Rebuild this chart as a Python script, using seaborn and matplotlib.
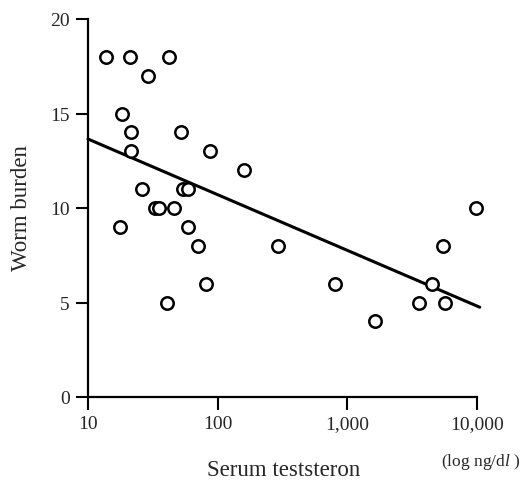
import matplotlib
matplotlib.use("Agg")
import matplotlib.pyplot as plt
import seaborn as sns
import pandas as pd

# Data
testosterone = [13.8, 21, 42, 29, 18.4, 21.5, 52, 21.5, 88, 159,
                26, 54, 59, 33, 35, 46, 17.7, 59, 70, 292,
                82, 41, 807, 1620, 3600, 4480, 5650, 5500, 9800]
worm_burden = [18, 18, 18, 17, 15, 14, 14, 13, 13, 12,
               11, 11, 11, 10, 10, 10, 9, 9, 8, 8,
               6, 5, 6, 4, 5, 6, 5, 8, 10]

# regression line end points
fit_x = [10, 10500]
fit_y = [13.65, 4.75]

x_ticks = [10, 100, 1000, 10000]
x_tick_labels = ["10", "100", "1,000", "10,000"]
y_ticks = [0, 5, 10, 15, 20]

df = pd.DataFrame({"testosterone": testosterone, "worm": worm_burden})
fit = pd.DataFrame({"x": fit_x, "y": fit_y})

sns.set_style("ticks")
plt.rcParams["font.family"] = ["Liberation Serif", "DejaVu Serif"]
plt.rcParams["mathtext.fontset"] = "custom"
plt.rcParams["mathtext.rm"] = "Liberation Serif"
plt.rcParams["mathtext.it"] = "Liberation Serif:italic"

W, H = 525, 485
fig = plt.figure(figsize=(W / 100, H / 100), dpi=100)
ax = fig.add_axes([88 / W, 1 - 398 / H, 389 / W, 378 / H])

sns.lineplot(data=fit, x="x", y="y", ax=ax, color="black", linewidth=2.2,
             clip_on=False)
sns.scatterplot(data=df, x="testosterone", y="worm", ax=ax, s=80,
                color="white", edgecolor="black", linewidth=1.8,
                zorder=3, clip_on=False)

ax.set_xscale("log")
ax.set_xlim(10, 10000)
ax.set_ylim(0, 20)
ax.set_xticks(x_ticks)
ax.set_xticklabels(x_tick_labels)
ax.minorticks_off()
ax.set_yticks(y_ticks)
ax.tick_params(axis="both", labelsize=14, width=1.5, length=9,
               color="black", pad=4)
for side in ["top", "right"]:
    ax.spines[side].set_visible(False)
for side in ["left", "bottom"]:
    ax.spines[side].set_linewidth(1.6)
    ax.spines[side].set_color("black")

ax.set_xlabel("")
ax.set_ylabel("")

fig.text(22 / W, 1 - 208 / H, "Worm burden", rotation=90, fontsize=16.5,
         ha="center", va="center")
fig.text(284 / W, 1 - 476 / H, "Serum teststeron", fontsize=16.5,
         ha="center", va="baseline")
fig.text(481 / W, 1 - 466 / H, r"(log ng/d$\mathit{l}$ )", fontsize=12.5,
         ha="center", va="baseline")

plt.savefig("out.png", dpi=100)
plt.close()
